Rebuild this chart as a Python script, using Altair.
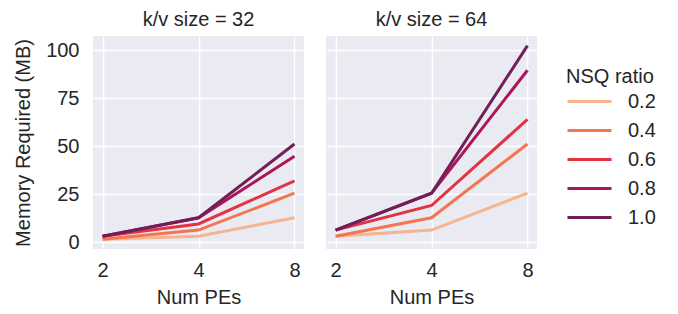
import altair as alt
import pandas as pd

pes = [2, 4, 8]
ratios = ["0.2", "0.4", "0.6", "0.8", "1.0"]
kv_sizes = ["k/v size = 32", "k/v size = 64"]

# memory (MB) per ratio, values at PEs 2, 4, 8
mem_32 = {
    "0.2": [1.6, 3.2, 12.8],
    "0.4": [1.6, 6.4, 25.6],
    "0.6": [3.2, 9.6, 32.0],
    "0.8": [3.2, 12.8, 44.8],
    "1.0": [3.2, 12.8, 51.2],
}
mem_64 = {
    "0.2": [3.2, 6.4, 25.6],
    "0.4": [3.2, 12.8, 51.2],
    "0.6": [6.4, 19.2, 64.0],
    "0.8": [6.4, 25.6, 89.6],
    "1.0": [6.4, 25.6, 102.4],
}
colors = ["#f6b48f", "#f37651", "#e13342", "#ad1759", "#701f57"]

rows = []
for kv, mem in zip(kv_sizes, [mem_32, mem_64]):
    for r in ratios:
        for pe, v in zip(pes, mem[r]):
            rows.append({"kv": kv, "ratio": r, "pe": pe, "mem": v})
df = pd.DataFrame(rows)

FONT = "Liberation Sans"
TXT = "#262626"

base = alt.Chart(df).mark_line(strokeWidth=3).encode(
    x=alt.X("pe:Q",
            scale=alt.Scale(type="log", base=2, domain=[1.866, 8.57], nice=False, zero=False),
            axis=alt.Axis(values=pes, format="d", title="Num PEs")),
    y=alt.Y("mem:Q",
            scale=alt.Scale(domain=[-3.44, 107.44], nice=False, zero=False),
            axis=alt.Axis(values=[0, 25, 50, 75, 100], title="Memory Required (MB)")),
    color=alt.Color("ratio:N",
                    scale=alt.Scale(domain=ratios, range=colors),
                    legend=alt.Legend(title="NSQ ratio", orient="none",
                                      legendX=473, legendY=31,
                                      symbolType="stroke", symbolStrokeWidth=3,
                                      symbolSize=1936, clipHeight=29, rowPadding=0,
                                      labelOffset=15, titlePadding=0,
                                      labelFontSize=20, titleFontSize=20,
                                      titleFontWeight="normal",
                                      labelColor=TXT, titleColor=TXT,
                                      labelFont=FONT, titleFont=FONT)),
).properties(width=211, height=213)

chart = base.facet(
    column=alt.Column("kv:N", title=None, sort=kv_sizes,
                      header=alt.Header(labelFontSize=20, labelFont=FONT, labelColor=TXT,
                                        labelPadding=6)),
    spacing=22,
).configure_view(
    fill="#eaeaf2", strokeWidth=0
).configure_axis(
    labelFontSize=20, titleFontSize=20, labelFont=FONT, titleFont=FONT,
    labelColor=TXT, titleColor=TXT, titleFontWeight="normal",
    ticks=False, domain=False, gridColor="white", gridWidth=1.5,
    labelPadding=14,
).configure_axisY(titlePadding=12).configure_axisX(titlePadding=7, labelPadding=11).properties(
    padding={"left": 5, "top": 2, "right": 0, "bottom": 0},
    background="white",
)

chart.save("out.html", embed_options={"renderer": "svg", "actions": False})
